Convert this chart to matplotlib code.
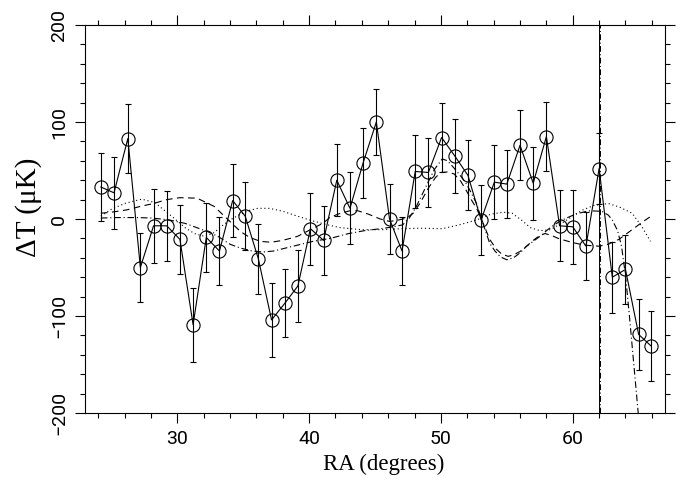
import matplotlib
matplotlib.use('Agg')
import matplotlib.pyplot as plt
from matplotlib.ticker import MultipleLocator

# measured points (RA in degrees, dT in microK, 1-sigma error)
ra = [24.2, 25.2, 26.25, 27.2, 28.2, 29.2, 30.2, 31.2, 32.2, 33.2, 34.2,
      35.15, 36.15, 37.15, 38.15, 39.15, 40.1, 41.1, 42.1, 43.1, 44.1, 45.1,
      46.1, 47.05, 48.05, 49.05, 50.05, 51.05, 52.05, 53.05, 54.05, 55.0,
      56.0, 57.0, 58.0, 59.0, 60.0, 61.0, 62.0, 63.0, 64.0, 65.0, 65.95]
dT = [33, 27, 83, -50, -7, -7, -21, -109, -19, -33, 19,
      3, -41, -104, -87, -69, -10, -22, 40, 11, 58, 100,
      0, -33, 49, 48, 84, 65, 45, -1, 38, 36,
      76, 37, 85, -7, -8, -28, 52, -60, -52, -119, -131]
err = [35, 37, 36, 35.5, 38, 36, 35.5, 38, 35.5, 35.5, 38,
       35, 36, 38, 35, 37, 37, 35.5, 37, 37, 36, 34,
       36.5, 35.5, 38, 36, 36, 38, 36, 36, 38, 35,
       36, 37.5, 35.5, 36.5, 38, 35, 37, 36.5, 35.5, 37, 36]

# model curves
dash_ra = [24.2, 25.0, 26.2, 27.2, 28.2, 29.2, 30.2, 31.5, 32.8, 33.8, 34.8,
           35.5, 36.3, 37.1, 38.0, 39.1, 40.1, 41.1, 41.6, 42.4, 43.1, 43.7,
           44.5, 45.4, 46.1, 46.8, 47.4, 47.9, 48.4, 49.1, 49.6, 50.0, 50.5,
           51.0, 51.5, 51.9, 52.3, 52.7, 53.1, 53.7, 54.2, 54.6, 55.1, 55.5,
           56.0, 56.5, 57.0, 57.5, 57.9, 58.4, 58.9, 59.9, 60.9, 62.0, 62.7,
           63.5, 64.5, 65.2, 65.9]
dash_dT = [6, 7, 9.5, 13, 16, 20, 22, 21.5, 13, 0, -13,
           -19, -23, -24, -22, -18, -11, -4, 2, 6, 8.5, 8.5,
           5, 0, -2.5, -1, 1, 6, 16, 33, 43, 48, 48.5,
           46.5, 39, 30, 20, 11, -1, -21, -31, -36, -38.5, -37,
           -33.5, -28, -22, -17, -15, -17, -20, -24, -27, -28, -26,
           -21, -11, -4, 2.6]

dashdot_ra = [24.2, 25.5, 27.0, 28.1, 29.4, 30.6, 31.5, 32.3, 33.1, 34.0,
              34.8, 35.7, 36.5, 37.3, 38.2, 39.1, 40.3, 41.6, 43.0, 44.2,
              45.4, 46.2, 47.1, 47.6, 48.1, 48.6, 49.1, 49.5, 50.1, 50.5,
              50.9, 51.4, 51.9, 52.3, 52.7, 53.1, 53.4, 53.7, 54.1, 54.5,
              55.0, 55.5, 56.0, 56.5, 57.1, 57.6, 58.1, 58.6, 59.2, 60.2,
              61.2, 62.2, 62.7, 63.0, 63.4, 63.7, 64.0, 64.3, 64.6, 64.9, 65.0]
dashdot_dT = [1, 1.5, 1.5, 1, -1, -4.5, -9, -13, -18, -26,
              -30, -33, -34, -33, -30, -27, -23, -20, -15, -12,
              -10, -8.5, -6, 1, 12, 26, 40, 51, 62, 60,
              54, 46, 37, 27, 16, -1, -13, -25, -33, -39,
              -42, -40, -35, -28, -22, -17, -11, -6, -1, 5,
              8.5, 8, 4, -1, -12, -28, -58, -100, -145, -190, -205]

dot_ra = [24.2, 25.0, 26.0, 27.3, 28.3, 29.1, 29.6, 30.6, 31.3, 32.1, 32.8,
          33.4, 34.0, 34.8, 35.5, 36.1, 37.0, 38.0, 39.1, 40.3, 41.4, 42.4,
          44.0, 45.5, 47.0, 48.4, 50.1, 51.4, 52.7, 53.8, 54.7, 55.4, 56.1,
          56.8, 57.5, 58.3, 59.2, 60.0, 60.7, 61.6, 62.7, 63.6, 64.5, 65.2, 65.9]
dot_dT = [3, 10, 16, 20.5, 17, 8, 2.6, -9, -15, -18, -14,
          -7, -1, 5, 9, 11, 11, 8, 3, -2, -6, -9,
          -11, -11, -10, -9.5, -10, -6, -1, 5, 7, 6, -1,
          -9, -12, -11, -4, 3, 9, 14, 16, 12, 6, -7, -23]

ra_cut = 62.0

fig = plt.figure(figsize=(6.9, 4.83), dpi=100)
ax = fig.add_axes([0.1232, 0.1449, 0.8406, 0.8033])

ax.plot(dash_ra, dash_dT, color='k', lw=0.8, dashes=(6, 4))
ax.plot(dashdot_ra, dashdot_dT, color='k', lw=0.8, dashes=(6, 2.5, 1, 2.5))
ax.plot(dot_ra, dot_dT, color='k', lw=0.8, dashes=(1, 2.5))

ax.axvline(ra_cut, color='k', lw=0.7)
ax.axvline(ra_cut + 0.04, color='k', lw=0.7, dashes=(6, 2.5, 1, 2.5))

ax.errorbar(ra, dT, yerr=err, color='k', lw=0.8, elinewidth=0.8,
            capsize=2.2, capthick=0.8, marker='o', ms=9.5, mfc='none',
            mec='k', mew=0.8)

ax.set_xlim(23, 67)
ax.set_ylim(-200, 200)
ax.xaxis.set_major_locator(MultipleLocator(10))
ax.xaxis.set_minor_locator(MultipleLocator(2))
ax.yaxis.set_major_locator(MultipleLocator(100))
ax.yaxis.set_minor_locator(MultipleLocator(20))

ax.tick_params(which='both', direction='out', top=True, right=True,
               width=0.8, labelsize=14, labelcolor='k')
ax.tick_params(which='major', length=7.2, pad=5)
ax.tick_params(which='minor', length=3.6)
for s in ax.spines.values():
    s.set_linewidth(0.8)

for lbl in ax.get_xticklabels() + ax.get_yticklabels():
    lbl.set_family('Roboto')
for lbl in ax.get_yticklabels():
    lbl.set_rotation(90)
    lbl.set_va('center')

ax.set_xlabel('RA (degrees)', family='Liberation Serif', fontsize=16.5)
ax.xaxis.set_label_coords(0.515, -0.105)
ax.set_ylabel('ΔT (μK)', family='Liberation Serif', fontsize=21)
ax.yaxis.set_label_coords(-0.074, 0.53)

fig.savefig('out.png', dpi=100)
